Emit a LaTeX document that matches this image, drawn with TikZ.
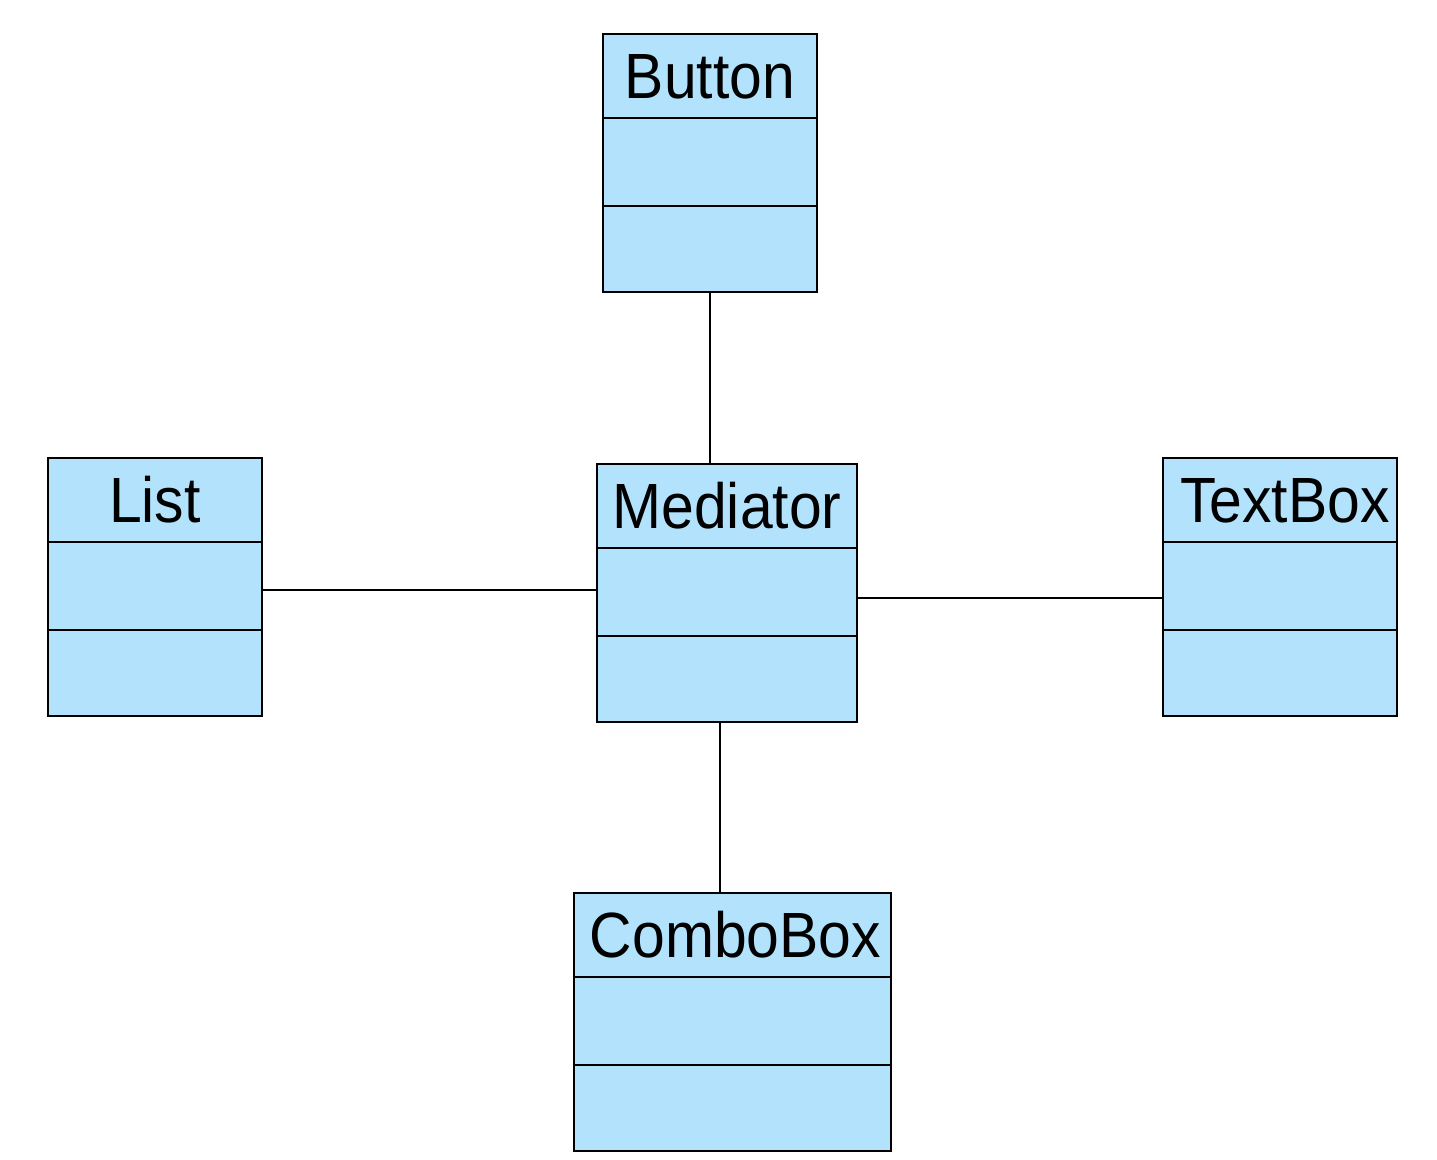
\documentclass[tikz,border=0pt]{standalone}
\usepackage{fontspec}
\newfontfamily\umlfont[FakeStretch=0.92]{Liberation Sans}
\usepackage{tikz}
\usetikzlibrary{calc}
\definecolor{umlblue}{RGB}{179,227,252}

\tikzset{
  classbox/.style={draw, line width=0.6pt, fill=umlblue, minimum height=2.58cm, inner sep=0pt},
  classname/.style={font=\umlfont\fontsize{18.2pt}{20pt}\selectfont, text height=13pt, text depth=0pt, inner sep=0pt},
  assoc/.style={line width=0.6pt}
}
% name, centre, width, title
\newcommand{\umlclass}[4]{%
  \node[classbox, minimum width=#3] (#1) at #2 {};
  \node[classname] (#1-title) at ($(#1.north)+(0,-0.43)$) {#4};
  \draw[assoc] ($(#1.north west)+(0,-0.85)$) -- ($(#1.north east)+(0,-0.85)$);
  \draw[assoc] ($(#1.north west)+(0,-1.73)$) -- ($(#1.north east)+(0,-1.73)$);
}

\begin{document}
\begin{tikzpicture}
\useasboundingbox (0,0) rectangle (14.37,11.60);

\umlclass{button}{(7.10,9.97)}{2.14cm}{Button}
\umlclass{list}{(1.55,5.73)}{2.14cm}{List}
\umlclass{mediator}{(7.27,5.67)}{2.60cm}{Mediator}
\umlclass{textbox}{(12.80,5.73)}{2.34cm}{\hspace{0.1cm}TextBox}
\umlclass{combobox}{(7.325,1.38)}{3.17cm}{\hspace{0.06cm}ComboBox}

\draw[assoc] (button.south) -- (button.south |- mediator.north);
\draw[assoc] ($(list.east)+(0,-0.03)$) -- ($(list.east -| mediator.west)+(0,-0.03)$);
\draw[assoc] ($(mediator.east)+(0,-0.05)$) -- ($(mediator.east -| textbox.west)+(0,-0.05)$);
\draw[assoc] ($(mediator.south)+(-0.07,0)$) -- ($(mediator.south |- combobox.north)+(-0.07,0)$);

\end{tikzpicture}
\end{document}
